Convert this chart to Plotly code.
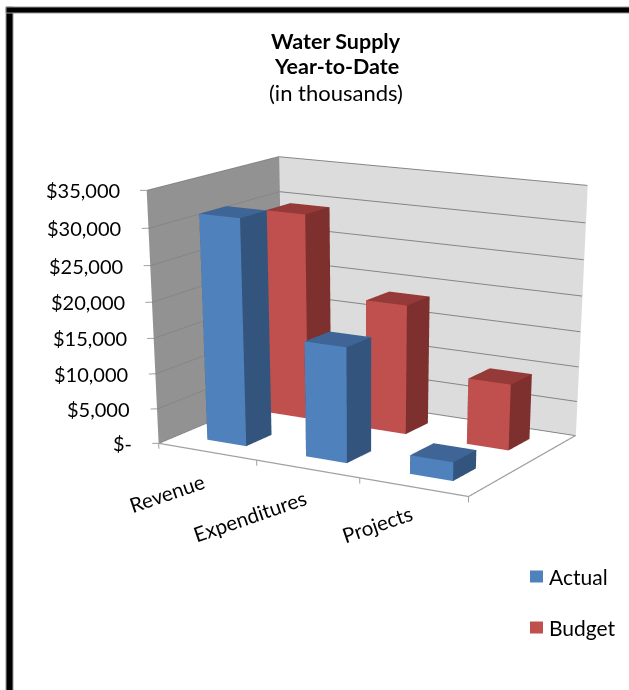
import numpy as np
import plotly.graph_objects as go

# Chart data
categories = ["Revenue", "Expenditures", "Projects"]
actual = [31600, 16100, 2600]
budget = [29500, 18500, 9400]
value_ticks = [0, 5000, 10000, 15000, 20000, 25000, 30000, 35000]
value_labels = ["$-", "$5,000", "$10,000", "$15,000", "$20,000", "$25,000", "$30,000", "$35,000"]

# The scene is larger than the window so the 45 degree lens reads as a long lens;
# the page is clipped to the window size after plotting.
WIN_W, WIN_H, FIG_W, FIG_H = 629, 690, 732, 1700

# Camera expressed for the plain box x 0-3, y 0-1, z 0-35000
BOX = np.array([[0, 3], [0, 1], [0, 35000]], float)
BOX_ASPECT = np.array([1.0, 0.673, 0.6992])
BOX_EYE = np.array([2.8974, -5.0251, 1.3055])
BOX_CENTER = np.array([0.229, -0.4105, -1.4391])

# Axis ranges leave room so that walls and ticks stay inside the clip box
RANGE = np.array([[-0.06, 3.05], [-0.03, 1.03], [-1000, 35500]], float)
scale = BOX_ASPECT / (BOX[:, 1] - BOX[:, 0])
shift = (BOX.mean(axis=1) - RANGE.mean(axis=1)) * scale
aspect = scale * (RANGE[:, 1] - RANGE[:, 0])
eye = BOX_EYE + shift
center = BOX_CENTER + shift

FLAT = dict(ambient=1, diffuse=0, specular=0, fresnel=0)


def bars(vals, y0, y1, front, side, top, name):
    """One series as a row of boxes standing on the floor."""
    X, Y, Z, I, J, K, C = [], [], [], [], [], [], []
    for n, v in enumerate(vals):
        x0, x1 = n + 0.3, n + 0.7
        b = len(X)
        for level in (0, v):
            X += [x0, x1, x1, x0]
            Y += [y0, y0, y1, y1]
            Z += [level] * 4
        faces = [(0, 1, 5, front), (0, 5, 4, front), (1, 2, 6, side), (1, 6, 5, side),
                 (4, 5, 6, top), (4, 6, 7, top), (0, 4, 7, side), (0, 7, 3, side),
                 (3, 2, 6, side), (3, 6, 7, side)]
        for a, c, d, col in faces:
            I.append(b + a)
            J.append(b + c)
            K.append(b + d)
            C.append(col)
    return go.Mesh3d(x=X, y=Y, z=Z, i=I, j=J, k=K, facecolor=C, name=name, hoverinfo="skip",
                     flatshading=True, lighting=FLAT)


fig = go.Figure()

# Back wall and side wall
top_value = value_ticks[-1]
fig.add_trace(go.Mesh3d(x=[0, 3, 3, 0, 0, 0], y=[1, 1, 1, 1, 0, 0],
                        z=[0, 0, top_value, top_value, 0, top_value],
                        i=[0, 0, 0, 0], j=[1, 2, 3, 5], k=[2, 3, 5, 4],
                        facecolor=["#dcdcdc", "#dcdcdc", "#929292", "#929292"],
                        hoverinfo="skip", lighting=FLAT))

fig.add_trace(bars(actual, 0.15, 0.35, "#4f81bd", "#33547c", "#3e6596", "Actual"))
fig.add_trace(bars(budget, 0.65, 0.85, "#c0504d", "#7d302e", "#953a38", "Budget"))


def line3(x, y, z, color, width=2):
    fig.add_trace(go.Scatter3d(x=x, y=y, z=z, mode="lines", line=dict(color=color, width=width),
                               hoverinfo="skip", showlegend=False))


# Gridlines run along the side wall and the back wall
for v in value_ticks:
    line3([0.002, 0.002, 3], [0, 0.995, 0.995], [v, v, v], "#858585")
    line3([-0.045, 0], [-0.015, 0], [v, v], "#a0a0a0")
line3([0, 3, 3], [0, 0, 1], [0, 0, 0], "#a0a0a0", 2.5)
for n in range(len(categories) + 1):
    line3([n, n], [0, 0], [0, -800], "#a0a0a0")

labels3d = []
for v, t in zip(value_ticks, value_labels):
    labels3d.append(dict(x=0, y=0, z=v, text=t, showarrow=False, xanchor="right", xshift=-25,
                         font=dict(family="Lato", size=20, color="#000")))
for n, (c, dx, dy) in enumerate(zip(categories, (-40, -58, -36), (-41, -47, -37))):
    labels3d.append(dict(x=n + 0.5, y=0, z=0, text=c, showarrow=False, textangle=-19,
                         xshift=dx, yshift=dy, font=dict(family="Lato", size=20.5, color="#000")))

fig.update_layout(
    width=FIG_W, height=FIG_H, margin=dict(l=0, r=0, t=0, b=0), paper_bgcolor="#fff", showlegend=False,
    scene=dict(domain=dict(x=[0, 1], y=[0, 1]), aspectmode="manual",
               aspectratio=dict(x=aspect[0], y=aspect[1], z=aspect[2]),
               camera=dict(eye=dict(x=eye[0], y=eye[1], z=eye[2]),
                           center=dict(x=center[0], y=center[1], z=center[2]),
                           up=dict(x=0, y=0, z=1)),
               xaxis=dict(visible=False, range=list(RANGE[0])),
               yaxis=dict(visible=False, range=list(RANGE[1])),
               zaxis=dict(visible=False, range=list(RANGE[2])),
               annotations=labels3d))


def px(x):
    return x / FIG_W


def py(y):
    return 1 - y / FIG_H


# Three-line title
for y, t, size in [(41, "<b>Water Supply</b>", 21.5), (66, "<b>Year-to-Date</b>", 21.5), (93, "(in thousands)", 22)]:
    fig.add_annotation(x=px(336), y=py(y), xref="paper", yref="paper", xanchor="center", yanchor="middle",
                       text=t, showarrow=False, font=dict(family="Lato", size=size, color="#000"))

# Legend
for y, t, col in [(576.5, "Actual", "#4f81bd"), (627.5, "Budget", "#c0504d")]:
    fig.add_shape(type="rect", xref="paper", yref="paper", x0=px(530), x1=px(543), y0=py(y - 6), y1=py(y + 6),
                  fillcolor=col, line_width=0)
    fig.add_annotation(x=px(547), y=py(y), xref="paper", yref="paper", xanchor="left", yanchor="middle",
                       text=t, showarrow=False, font=dict(family="Lato", size=21, color="#000"))

# Heavy frame on the top and left edges
fig.add_shape(type="rect", xref="paper", yref="paper", x0=px(6), x1=px(13), y0=py(7), y1=py(WIN_H + 10),
              fillcolor="#000", line=dict(color="#999", width=1))
fig.add_shape(type="rect", xref="paper", yref="paper", x0=px(6), x1=px(WIN_W + 5), y0=py(7), y1=py(13),
              fillcolor="#000", line=dict(color="#999", width=1))

fig.write_html("out.html", post_script=(
    "for(const el of [document.documentElement,document.body]){"
    "el.style.overflow='hidden';el.style.width='629px';el.style.height='690px';}"))
